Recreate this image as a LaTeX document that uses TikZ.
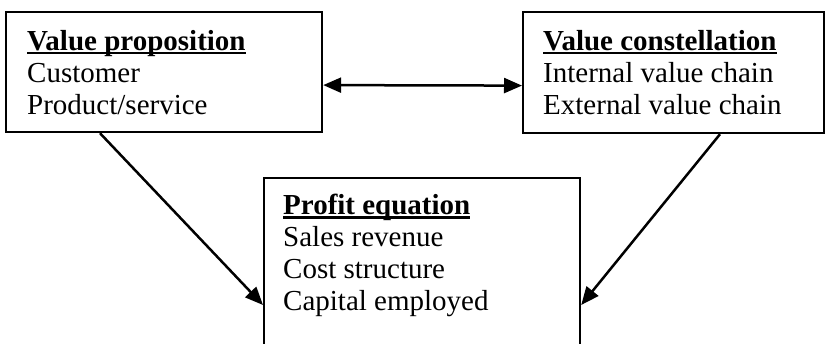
\documentclass[tikz,border=0pt]{standalone}
\usepackage{fontspec}
\setmainfont{Liberation Serif}
\usetikzlibrary{calc,arrows.meta}
\newcommand{\hdul}[1]{{\setbox0\hbox{\bfseries #1}\rlap{\rule[-4pt]{\wd0}{2.2pt}}\box0}}
\tikzset{
  box/.style={draw=black, line width=2.2pt, anchor=north west, inner sep=0pt},
  txt/.style={anchor=north west, align=left, inner sep=0pt, font=\fontsize{29}{32}\selectfont},
  conn/.style={line width=2.5pt, -{Triangle[length=18pt,width=15pt]}},
  dconn/.style={line width=2.5pt, {Triangle[length=18pt,width=15pt]}-{Triangle[length=18pt,width=15pt]}}
}
\begin{document}
\begin{tikzpicture}[x=1pt,y=-1pt]
\clip (0,0) rectangle (825,344);
\fill[white] (0,0) rectangle (825,344);
\node[box, minimum width=316pt, minimum height=120pt] (vp) at (5,11) {};
\node[box, minimum width=301pt, minimum height=121pt] (vc) at (522,11) {};
\node[box, minimum width=316pt, minimum height=200pt] (pe) at (263,177) {};
\node[txt] (vpt) at ($(vp.north west)+(22,19)$) {\hdul{Value proposition}\\Customer\\Product/service};
\node[txt] (vct) at ($(vc.north west)+(21,19)$) {\hdul{Value constellation}\\Internal value chain\\External value chain};
\node[txt] (pet) at ($(pe.north west)+(20,17)$) {\hdul{Profit equation}\\Sales revenue\\Cost structure\\Capital employed};
\draw[dconn] ($(vp.east)+(0,13)$) -- ($(vc.west)+(0,13)$);
\draw[conn] ($(vp.south west)+(95,0)$) -- ($(pe.north west)+(0,128)$);
\draw[conn] ($(vc.south west)+(198,0)$) -- ($(pe.north east)+(0,128)$);
\end{tikzpicture}
\end{document}
